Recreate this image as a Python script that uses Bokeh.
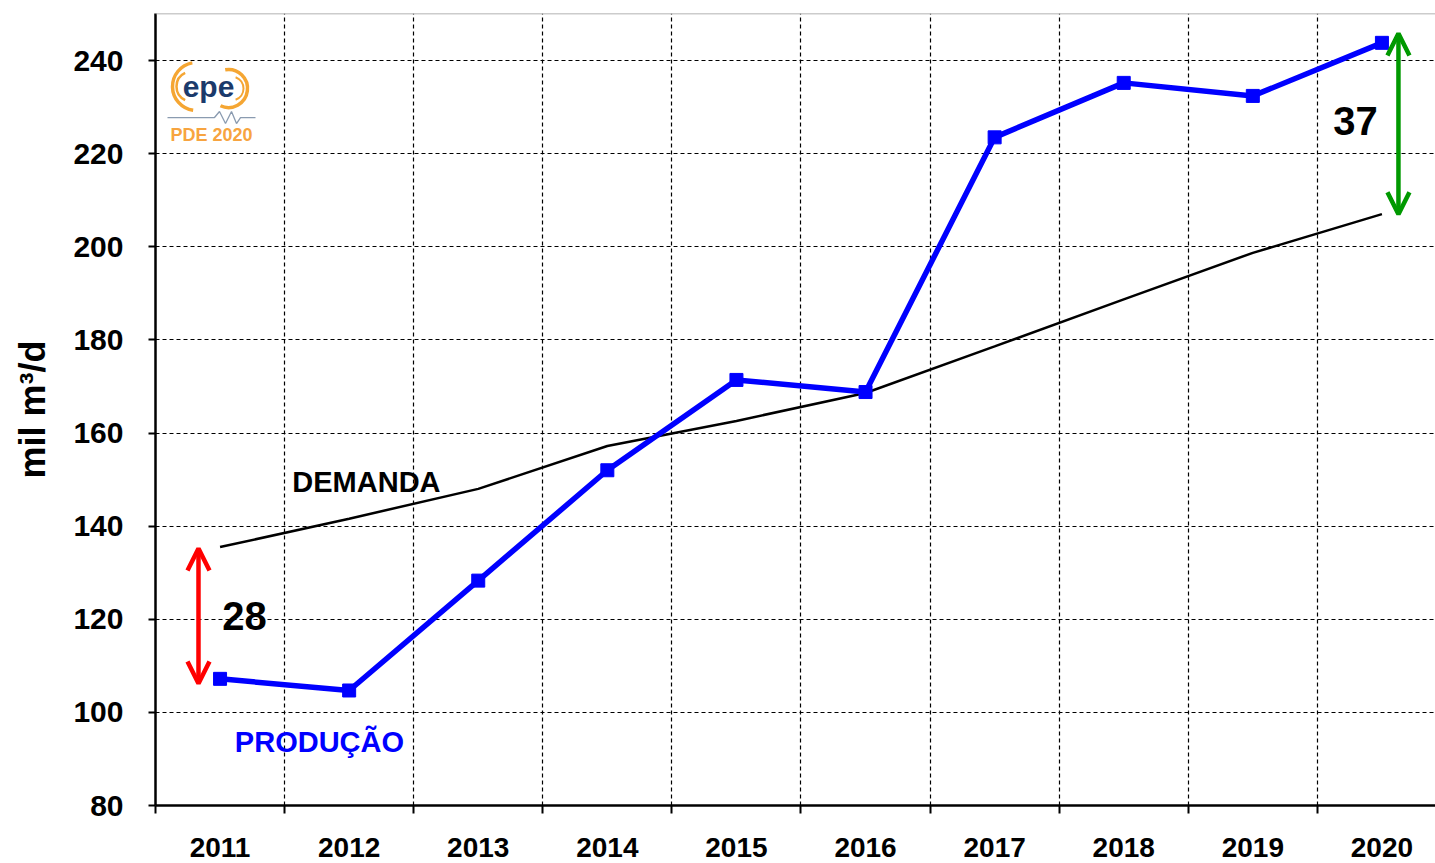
import numpy as np
from bokeh.plotting import figure
from bokeh.models import (Range1d, FixedTicker, Arrow, OpenHead, Span)
from bokeh.core.properties import value
from bokeh.embed import file_html
from bokeh.resources import INLINE

# ---------------- data ----------------
anos = ["2011", "2012", "2013", "2014", "2015", "2016", "2017", "2018", "2019", "2020"]
producao = [107.2, 104.7, 128.3, 152.0, 171.4, 168.8, 223.5, 235.2, 232.4, 243.8]
demanda = [135.5, 141.6, 148.0, 157.2, 162.6, 168.6, 178.6, 188.7, 198.7, 207.0]
y_ticks = [80, 100, 120, 140, 160, 180, 200, 220, 240]
gap_2011 = 28
gap_2020 = 37

FONT = "Liberation Sans"

# category centres (index + 0.5), boundaries at integers
xc = [i + 0.5 for i in range(len(anos))]
bounds = list(range(len(anos)))

p = figure(width=1435, height=863,
           x_range=Range1d(0, 9.915), y_range=Range1d(80, 250.1),
           output_backend="svg", toolbar_location=None,
           min_border_left=155, min_border_right=0,
           min_border_top=13, min_border_bottom=58)
p.outline_line_color = None
p.background_fill_color = "white"
p.border_fill_color = "white"

# grids
p.xgrid.ticker = FixedTicker(ticks=bounds[1:])
p.ygrid.ticker = FixedTicker(ticks=y_ticks[1:])
for g in (p.xgrid, p.ygrid):
    g.grid_line_color = "#000000"
    g.grid_line_dash = "4 3"
    g.grid_line_width = 1.2

# x axis
xa = p.xaxis[0]
xa.ticker = FixedTicker(ticks=xc, minor_ticks=bounds)
xa.major_label_overrides = {x: a for x, a in zip(xc, anos)}
xa.major_tick_line_color = None
xa.major_tick_out = 0
xa.major_tick_in = 0
xa.minor_tick_out = 8
xa.minor_tick_in = 0
xa.minor_tick_line_color = "black"
xa.minor_tick_line_width = 2
xa.axis_line_width = 2.5
xa.axis_line_color = "black"
xa.major_label_text_font = FONT
xa.major_label_text_font_style = "bold"
xa.major_label_text_font_size = "28px"
xa.major_label_text_color = "black"
xa.major_label_standoff = 24

# y axis
ya = p.yaxis[0]
ya.ticker = FixedTicker(ticks=y_ticks)
ya.minor_tick_line_color = None
ya.major_tick_out = 7
ya.major_tick_in = 0
ya.major_tick_line_width = 2
ya.axis_line_width = 2.5
ya.major_label_text_font = FONT
ya.major_label_text_font_style = "bold"
ya.major_label_text_font_size = "30px"
ya.major_label_text_color = "black"
ya.major_label_standoff = 25
ya.axis_label = "mil m³/d"
ya.axis_label_text_font = FONT
ya.axis_label_text_font_style = "bold"
ya.axis_label_text_font_size = "36px"
ya.axis_label_text_color = "black"
ya.axis_label_standoff = 17

# top border
p.add_layout(Span(location=250.1, dimension="width", line_color="#999999", line_width=1.5))

# series
p.line(xc, demanda, line_color="black", line_width=2.5)
p.line(xc, producao, line_color="#0000FF", line_width=5.5)
p.scatter(xc, producao, marker="square", size=13, fill_color="#0000FF", line_color="#0000FF")

# gap arrows
x_red = 0.333
x_green = 9.628
RED = "#FF0000"
GREEN = "#009900"
p.add_layout(Arrow(x_start=x_red, y_start=demanda[0] - 0.3, x_end=x_red, y_end=producao[0] - 1.0,
                   line_color=RED, line_width=4.5,
                   start=OpenHead(size=22, line_color=RED, line_width=4.5),
                   end=OpenHead(size=22, line_color=RED, line_width=4.5)))
p.add_layout(Arrow(x_start=x_green, y_start=producao[-1] + 2.0, x_end=x_green, y_end=demanda[-1],
                   line_color=GREEN, line_width=4.5,
                   start=OpenHead(size=22, line_color=GREEN, line_width=4.5),
                   end=OpenHead(size=22, line_color=GREEN, line_width=4.5)))

p.text(x=[0.69], y=[120.8], text=[str(gap_2011)], text_font=value(FONT), text_font_style="bold",
       text_font_size="40px", text_align="center", text_baseline="middle", text_color="black")
p.text(x=[9.295], y=[227.1], text=[str(gap_2020)], text_font=value(FONT), text_font_style="bold",
       text_font_size="40px", text_align="center", text_baseline="middle", text_color="black")

# series labels
p.text(x=[1.634], y=[149.4], text=["DEMANDA"], text_font=value(FONT), text_font_style="bold",
       text_font_size="29px", text_align="center", text_baseline="middle", text_color="black")
p.text(x=[1.27], y=[93.7], text=["PRODUÇÃO"], text_font=value(FONT), text_font_style="bold",
       text_font_size="29px", text_align="center", text_baseline="middle", text_color="#0000FF")

# ---- epe logo (decoration) ----
def dx(px):
    return (px - 155) / 129.1

def dy(py):
    return 240 - (py - 60) / 4.656

orange = "#F5A633"
p.arc(x=[dx(196)], y=[dy(86)], radius=24, radius_units="screen",
      start_angle=np.deg2rad(100), end_angle=np.deg2rad(262),
      line_color=orange, line_width=3.5)
p.arc(x=[dx(191)], y=[dy(86)], radius=15, radius_units="screen",
      start_angle=np.deg2rad(115), end_angle=np.deg2rad(245),
      line_color=orange, line_width=2.5)
p.arc(x=[dx(228)], y=[dy(88)], radius=19, radius_units="screen",
      start_angle=np.deg2rad(-115), end_angle=np.deg2rad(100),
      line_color=orange, line_width=3.5)
p.arc(x=[dx(231)], y=[dy(88)], radius=12, radius_units="screen",
      start_angle=np.deg2rad(-70), end_angle=np.deg2rad(70),
      line_color=orange, line_width=2)
p.text(x=[dx(208)], y=[dy(86)], text=["epe"], text_font=value(FONT), text_font_style="bold",
       text_font_size="30px", text_align="center", text_baseline="middle", text_color="#1B3A6B")
zx = [167, 214, 219, 225, 231, 236, 240, 255]
zy = [117, 117, 111, 123, 111, 123, 117, 117]
p.line([dx(v) for v in zx], [dy(v) for v in zy], line_color="#8A9BB0", line_width=1.3)
p.text(x=[dx(211)], y=[dy(134)], text=["PDE 2020"], text_font=value(FONT), text_font_style="bold",
       text_font_size="18px", text_align="center", text_baseline="middle", text_color="#F7A440")

open("out.html", "w").write(file_html(p, INLINE))
